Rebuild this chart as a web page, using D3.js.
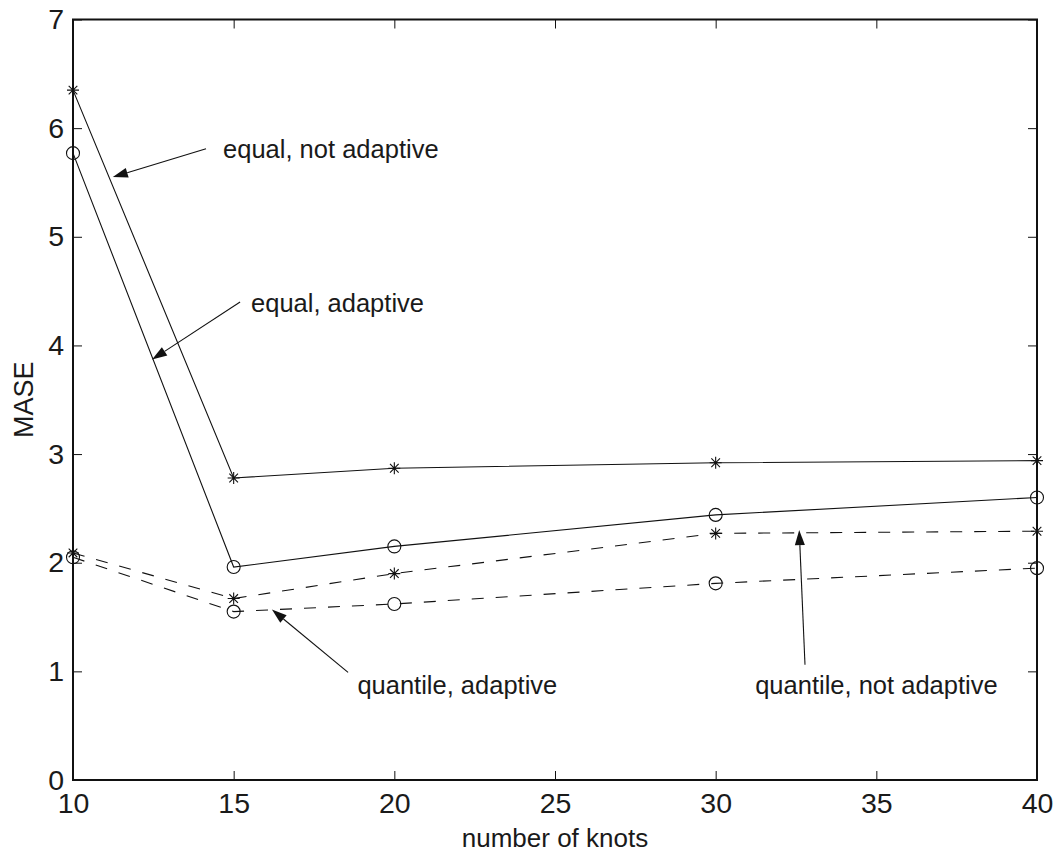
<!DOCTYPE html>
<html>
<head>
<meta charset="utf-8">
<script src="https://cdn.jsdelivr.net/npm/d3@7"></script>
<style>
  html, body { margin: 0; padding: 0; background: #fff; }
  text { font-family: "Liberation Sans", Arial, Helvetica, sans-serif; fill: #1a1a1a; }
</style>
</head>
<body>
<svg id="chart" width="1059" height="852"></svg>
<script>
// Number of knots on the x axis
const knots = [10, 15, 20, 30, 40];

// MASE for each knot placement / fitting scheme
const equalNotAdaptive    = [6.35, 2.78, 2.87, 2.92, 2.94];
const equalAdaptive       = [5.77, 1.96, 2.15, 2.44, 2.60];
const quantileNotAdaptive = [2.09, 1.67, 1.90, 2.27, 2.29];
const quantileAdaptive    = [2.05, 1.55, 1.62, 1.81, 1.95];

const xTicks = [10, 15, 20, 25, 30, 35, 40];
const yTicks = [0, 1, 2, 3, 4, 5, 6, 7];

// Annotation labels with arrows (data coordinates)
const notes = [
  { label: "equal, not adaptive",    tx: 14.67, ty: 5.81, from: [14.14, 5.81], to: [11.24, 5.55] },
  { label: "equal, adaptive",        tx: 15.54, ty: 4.39, from: [15.20, 4.40], to: [12.46, 3.87] },
  { label: "quantile, adaptive",     tx: 18.85, ty: 0.87, from: [18.56, 0.99], to: [16.19, 1.57] },
  { label: "quantile, not adaptive", tx: 31.23, ty: 0.87, from: [32.78, 1.06], to: [32.60, 2.30] }
];

const series = [
  { values: equalNotAdaptive,    marker: "star",   dashed: false },
  { values: equalAdaptive,       marker: "circle", dashed: false },
  { values: quantileNotAdaptive, marker: "star",   dashed: true  },
  { values: quantileAdaptive,    marker: "circle", dashed: true  }
];

const svg = d3.select("#chart");
const plotLeft = 73, plotRight = 1037, plotTop = 19.5, plotBottom = 780;

const x = d3.scaleLinear().domain([10, 40]).range([plotLeft, plotRight]);
const y = d3.scaleLinear().domain([0, 7]).range([plotBottom, plotTop]);

const ink = "#111";
const tickLen = 9;

// Axes with inward ticks on all four sides
const axisFont = 28.5;
const gB = svg.append("g").attr("transform", `translate(0,${plotBottom})`)
  .call(d3.axisBottom(x).tickValues(xTicks).tickSize(-tickLen).tickPadding(13).tickFormat(d3.format("d")));
const gT = svg.append("g").attr("transform", `translate(0,${plotTop})`)
  .call(d3.axisTop(x).tickValues(xTicks).tickSize(-tickLen).tickFormat(""));
const gL = svg.append("g").attr("transform", `translate(${plotLeft},0)`)
  .call(d3.axisLeft(y).tickValues(yTicks).tickSize(-tickLen).tickPadding(9).tickFormat(d3.format("d")));
const gR = svg.append("g").attr("transform", `translate(${plotRight},0)`)
  .call(d3.axisRight(y).tickValues(yTicks).tickSize(-tickLen).tickFormat(""));

[gB, gT, gL, gR].forEach(g => {
  g.select(".domain").remove();
  g.selectAll(".tick line").attr("stroke", ink).attr("stroke-width", 1);
  g.selectAll(".tick text").attr("font-size", axisFont).attr("fill", "#1a1a1a")
    .style("font-family", '"Liberation Sans", Arial, Helvetica, sans-serif');
});

// Frame
svg.append("rect")
  .attr("x", plotLeft).attr("y", plotTop)
  .attr("width", plotRight - plotLeft).attr("height", plotBottom - plotTop)
  .attr("fill", "none").attr("stroke", ink).attr("stroke-width", 2);

// Axis titles
svg.append("text")
  .attr("x", (plotLeft + plotRight) / 2).attr("y", 847)
  .attr("text-anchor", "middle").attr("font-size", 26)
  .text("number of knots");
svg.append("text")
  .attr("transform", `translate(33,${(plotTop + plotBottom) / 2}) rotate(-90)`)
  .attr("text-anchor", "middle").attr("font-size", 27)
  .text("MASE");

// Lines
const line = d3.line().x((d, i) => x(knots[i])).y(d => y(d));
const plot = svg.append("g");
series.forEach(s => {
  plot.append("path")
    .attr("d", line(s.values))
    .attr("fill", "none")
    .attr("stroke", ink)
    .attr("stroke-width", 1.1)
    .attr("stroke-dasharray", s.dashed ? "12,12" : null);
});

// Markers
series.forEach(s => {
  s.values.forEach((v, i) => {
    const cx = x(knots[i]), cy = y(v);
    if (s.marker === "circle") {
      plot.append("circle").attr("cx", cx).attr("cy", cy).attr("r", 6.5)
        .attr("fill", "none").attr("stroke", ink).attr("stroke-width", 1.1);
    } else {
      const r = 6, d = r * 0.72;
      const p = `M${cx - r},${cy}L${cx + r},${cy}M${cx},${cy - r}L${cx},${cy + r}` +
                `M${cx - d},${cy - d}L${cx + d},${cy + d}M${cx - d},${cy + d}L${cx + d},${cy - d}`;
      plot.append("path").attr("d", p).attr("stroke", ink).attr("stroke-width", 1.1).attr("fill", "none");
    }
  });
});

// Annotations
const ann = svg.append("g");
notes.forEach(n => {
  const x0 = x(n.from[0]), y0 = y(n.from[1]);
  const x1 = x(n.to[0]), y1 = y(n.to[1]);
  const ang = Math.atan2(y1 - y0, x1 - x0);
  const hl = 15, hw = 5;
  const bx = x1 - hl * Math.cos(ang), by = y1 - hl * Math.sin(ang);
  ann.append("line")
    .attr("x1", x0).attr("y1", y0).attr("x2", bx).attr("y2", by)
    .attr("stroke", ink).attr("stroke-width", 1.1);
  const px = -Math.sin(ang) * hw, py = Math.cos(ang) * hw;
  ann.append("path")
    .attr("d", `M${x1},${y1}L${bx + px},${by + py}L${bx - px},${by - py}Z`)
    .attr("fill", ink);
  ann.append("text")
    .attr("x", x(n.tx)).attr("y", y(n.ty))
    .attr("dy", "0.35em")
    .attr("font-size", 25.5)
    .text(n.label);
});
</script>
</body>
</html>
